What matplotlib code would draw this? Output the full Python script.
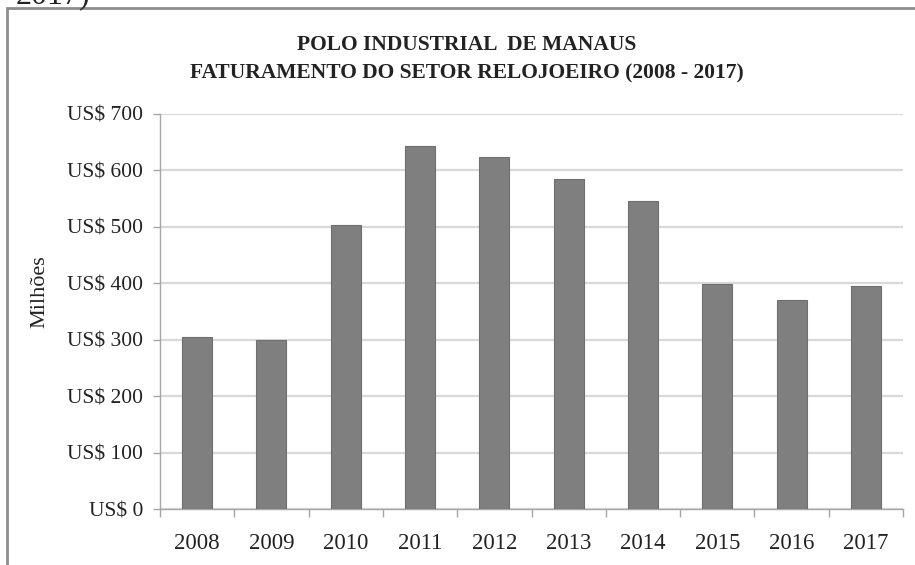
import matplotlib.pyplot as plt
from matplotlib.patches import Rectangle

# Data (US$ millions)
years = ['2008', '2009', '2010', '2011', '2012', '2013', '2014', '2015', '2016', '2017']
revenue = [304, 300, 504, 643, 624, 584, 546, 399, 370, 396]
yticks = [0, 100, 200, 300, 400, 500, 600, 700]
ytick_labels = ['US$ ' + str(v) for v in yticks]

plt.rcParams['font.family'] = ['Liberation Serif', 'DejaVu Serif']

fig = plt.figure(figsize=(9.15, 5.65), dpi=100)
ax = fig.add_axes([160 / 915, 1 - 509 / 565, 743 / 915, 395 / 565])

x = list(range(len(years)))
ax.bar(x, revenue, width=0.405, color='#7f7f7f', edgecolor='#6e6e6e', linewidth=0.8, zorder=3)

ax.set_xlim(-0.5, len(years) - 0.5)
ax.set_ylim(0, 700)
ax.set_yticks(yticks)
ax.set_yticklabels(ytick_labels, fontsize=15.5, color='#222222')
ax.set_xticks(x)
ax.set_xticklabels(years, fontsize=16.5, color='#222222')
ax.set_xticks([i - 0.5 for i in range(len(years) + 1)], minor=True)

ax.yaxis.grid(True, color='#d9d9d9', linewidth=1.6, zorder=0)
ax.tick_params(axis='x', which='major', length=0, pad=17)
ax.tick_params(axis='x', which='minor', length=6, color='#a6a6a6', width=1)
ax.tick_params(axis='y', length=5, color='#a6a6a6', width=1, pad=7)

for side in ['top', 'right']:
    ax.spines[side].set_visible(False)
for side in ['left', 'bottom']:
    ax.spines[side].set_color('#a6a6a6')
    ax.spines[side].set_linewidth(1)

ax.set_ylabel('Milhões', fontsize=16, color='#222222')
ax.yaxis.set_label_coords(-0.149, 0.55)

fig.text(467 / 915, 1 - 45 / 565, 'POLO INDUSTRIAL  DE MANAUS', ha='center', va='center',
         fontsize=15.5, fontweight='bold', color='#222222')
fig.text(467 / 915, 1 - 73 / 565, 'FATURAMENTO DO SETOR RELOJOEIRO (2008 - 2017)', ha='center',
         va='center', fontsize=15.5, fontweight='bold', color='#222222')

# leftover text from the page above the chart, cut off
fig.text(16 / 915, 1 - 3 / 565, '2017)', ha='left', va='baseline', fontsize=23, color='#222222')

# chart frame, cut off on the right and bottom
fig.patches.append(Rectangle((7 / 915, -0.1), 1.2, 1.1 - 8 / 565, transform=fig.transFigure,
                             fill=False, edgecolor='#8c8c8c', linewidth=2))

fig.savefig('out.png', dpi=100)
